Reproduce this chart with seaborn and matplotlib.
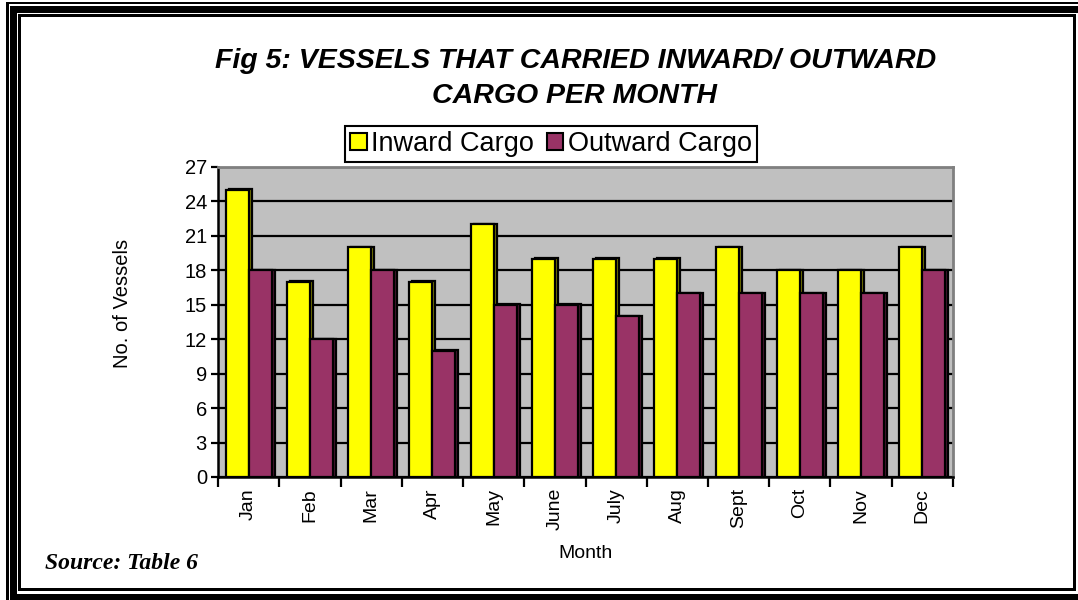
import numpy as np
import pandas as pd
import matplotlib
matplotlib.use("Agg")
import matplotlib.pyplot as plt
import matplotlib.transforms as mtransforms
from matplotlib.patches import Rectangle, Patch
import seaborn as sns

# ---- data ----
months = ["Jan", "Feb", "Mar", "Apr", "May", "June", "July", "Aug", "Sept", "Oct", "Nov", "Dec"]
inward = [25, 17, 20, 17, 22, 19, 19, 19, 20, 18, 18, 20]
outward = [18, 12, 18, 11, 15, 15, 14, 16, 16, 16, 16, 18]
series = ["Inward Cargo", "Outward Cargo"]
yticks = list(range(0, 28, 3))
title1 = "Fig 5: VESSELS THAT CARRIED INWARD/ OUTWARD"
title2 = "CARGO PER MONTH"

sns.set_theme(style="white")
plt.rcParams['font.family'] = ['Liberation Sans', 'DejaVu Sans']
for k in ['text.color', 'axes.labelcolor', 'xtick.color', 'ytick.color']:
    plt.rcParams[k] = 'black'

W, H = 1078, 600
fig = plt.figure(figsize=(W / 100, H / 100), dpi=100)
fig.patch.set_facecolor('white')
ax = fig.add_axes([218 / W, 1 - 477 / H, (953 - 218) / W, (477 - 167) / H])

df = pd.DataFrame({
    "Month": months * 2,
    "Vessels": inward + outward,
    "Series": [series[0]] * len(months) + [series[1]] * len(months),
})
colors = {"Inward Cargo": "#FFFF00", "Outward Cargo": "#993366"}
side = {"Inward Cargo": "#7F7F00", "Outward Cargo": "#4C1933"}

sns.barplot(data=df, x="Month", y="Vessels", hue="Series", order=months,
            hue_order=series, palette=colors, width=0.75, gap=0, saturation=1,
            edgecolor="black", linewidth=1.6, ax=ax, legend=False, zorder=3)

# 3-D style side faces behind each bar
off = mtransforms.ScaledTranslation(3 / 100, 0.5 / 100, fig.dpi_scale_trans)
bars = list(ax.patches)
for p in bars:
    fc = p.get_facecolor()
    name = series[0] if fc[2] < 0.2 else series[1]
    r = Rectangle((p.get_x(), p.get_y()), p.get_width(), p.get_height(),
                  transform=ax.transData + off, facecolor=side[name],
                  edgecolor='black', linewidth=1.6, zorder=2)
    ax.add_patch(r)

ax.set_facecolor("#C0C0C0")
ax.set_xlim(-0.5, len(months) - 0.5)
ax.set_ylim(0, 27)
ax.set_yticks(yticks)
ax.set_yticklabels([str(v) for v in yticks])
ax.yaxis.grid(True, color='black', linewidth=1.6)
ax.xaxis.grid(False)
ax.set_axisbelow(True)

ax.set_xticks(range(len(months)))
ax.set_xticklabels(months, rotation=90)
ax.set_xticks(np.arange(-0.5, len(months), 1), minor=True)
ax.tick_params(axis='x', which='major', length=0, pad=8, labelsize=14, bottom=True)
ax.tick_params(axis='x', which='minor', length=7, width=1.6, direction='out', bottom=True)
ax.tick_params(axis='y', which='major', length=5, width=1.6, direction='out', left=True,
               labelsize=14.5, pad=3)
ax.set_xlabel("")
ax.set_ylabel("")

for s in ['left', 'bottom']:
    ax.spines[s].set_color('black')
    ax.spines[s].set_linewidth(1.8)
for s in ['top', 'right']:
    ax.spines[s].set_color('#808080')
    ax.spines[s].set_linewidth(2)
    ax.spines[s].set_visible(True)

# legend
handles = [Patch(facecolor=colors[s], edgecolor='black', linewidth=1.5) for s in series]
leg = fig.legend(handles, series, loc='center', bbox_to_anchor=(551 / W, 1 - 144 / H),
                 ncol=2, frameon=True, fancybox=False, edgecolor='black', framealpha=1,
                 fontsize=19.5, handlelength=0.6, handleheight=0.6, handletextpad=0.15,
                 columnspacing=0.5, borderpad=0.2, borderaxespad=0)
leg.get_frame().set_linewidth(1.5)

# titles and labels
fig.text(576 / W, 1 - 61 / H, title1, ha='center', va='center', fontsize=20.5,
         fontweight='bold', fontstyle='italic')
fig.text(574 / W, 1 - 96 / H, title2, ha='center', va='center', fontsize=20.5,
         fontweight='bold', fontstyle='italic')
fig.text(586 / W, 1 - 553 / H, "Month", ha='center', va='center', fontsize=14)
fig.text(123 / W, 1 - 303 / H, "No. of Vessels", ha='center', va='center', fontsize=14.5,
         rotation=90)
fig.text(45 / W, 1 - 569 / H, "Source: Table 6", ha='left', va='baseline', fontsize=17,
         fontweight='bold', fontstyle='italic', family=['Liberation Serif', 'DejaVu Serif'])

# page frame (image pixel coords, origin top-left)
def box(x0, y0, x1, y1):
    fig.add_artist(Rectangle((x0 / W, 1 - y1 / H), (x1 - x0) / W, (y1 - y0) / H,
                             transform=fig.transFigure, facecolor='black',
                             edgecolor='none', zorder=10))

# outer thin
box(6, 2, W, 4)
box(6, 2, 8.5, H)
# thick
box(10, 6, W, 12.5)
box(10, 6, 16.5, H)
box(10, 594, W, H)
# inner thin
box(18, 14, 1075.5, 16.5)
box(18, 14, 20.5, 590.5)
box(1073, 14, 1075.5, 590.5)
box(18, 588, 1075.5, 590.5)

fig.savefig("out.png", dpi=100)
